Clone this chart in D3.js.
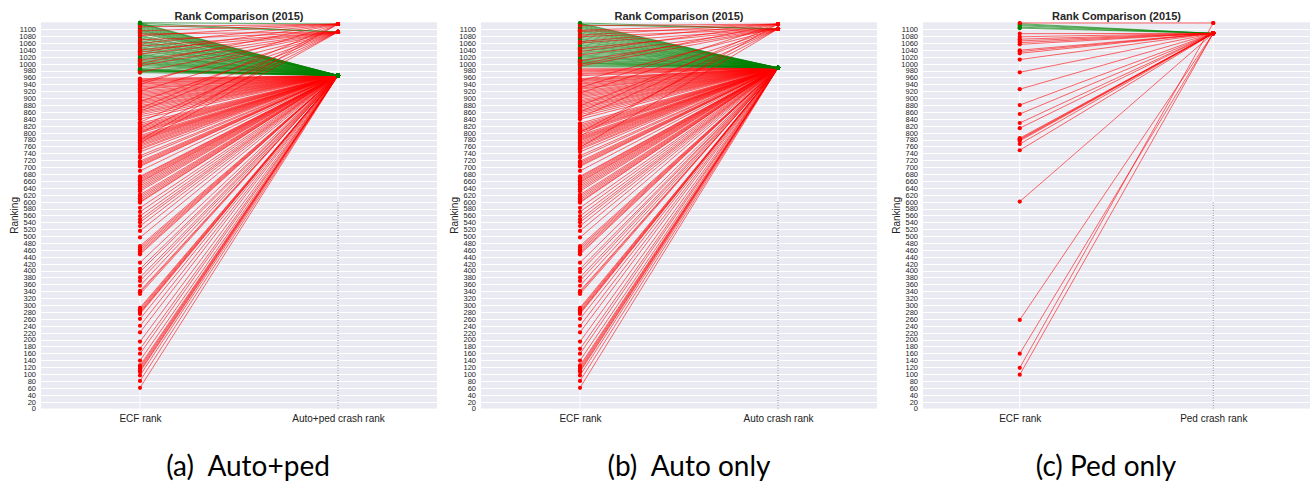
<!DOCTYPE html>
<html lang="en">
<head>
  <meta charset="UTF-8">
  <title>Rank Comparison (2015)</title>
  <style>
    body { margin: 0; background: #fff; }
    svg { display: block; }
    .tick text { font-family: "Liberation Sans", Arial, sans-serif; fill: #222; }
    .domain { display: none; }
    .link { fill: none; stroke-width: 0.9px; stroke-opacity: 0.65; }
  </style>
</head>
<body>
  <script src="https://d3js.org/d3.v7.min.js"></script>
  <script>
    // ECF ranks of the sites whose crash rank rises to the big tie (same sites in (a) and (b))
    const lowerEcf = [
      957, 954, 951, 948, 944, 941, 937, 933, 929, 926, 921, 917, 913, 909, 905, 901,
      896, 892, 888, 884, 879, 875, 871, 866, 861, 857, 852, 846, 839, 827, 822, 818,
      814, 810, 806, 803, 799, 792, 788, 785, 782, 779, 776, 772, 768, 764, 760, 755,
      751, 744, 733, 727, 717, 713, 709, 705, 702, 689, 673, 670, 666, 662, 658, 655,
      650, 645, 640, 635, 630, 620, 615, 610, 605, 600, 597, 582, 570, 558, 548, 540,
      529, 515, 496, 471, 466, 461, 456, 451, 447, 423, 405, 396, 380, 370, 356, 341,
      337, 332, 292, 288, 284, 280, 277, 274, 260, 240, 221, 194, 173, 159, 139, 125,
      120, 115, 110, 106, 96, 80, 60
    ];

    // (a) Auto+ped
    const autoPedTie = 966;
    const autoPedHighEcf = [
      974, 977, 979, 980, 981, 982, 984, 986, 991, 995, 998, 1001, 1003, 1006, 1009, 1012,
      1016, 1019, 1022, 1025, 1027, 1031, 1036, 1039, 1043, 1046, 1049, 1054, 1057, 1061,
      1064, 1067, 1072, 1075, 1079, 1082, 1088, 1091, 1094, 1097, 1099, 1102, 1105, 1108,
      1111, 1114, 1116, 1118
    ];
    const autoPedTo1092 = [1117, 1112, 1086, 1069, 1051, 1040, 1028, 1010, 994, 975, 947, 920, 890, 862, 830, 798, 770];
    const autoPedTo1115 = [1119, 1107, 1095, 1081, 1059, 1033, 1000, 940, 870, 812, 778];

    // (b) Auto only
    const autoTie = 988;
    const autoHighEcf = [
      965, 969, 972, 976, 979, 982, 985, 991, 994, 997, 1000, 1002, 1004, 1007, 1010, 1013,
      1017, 1020, 1023, 1026, 1030, 1034, 1038, 1041, 1045, 1048, 1052, 1055, 1059, 1063,
      1066, 1070, 1073, 1077, 1081, 1085, 1089, 1093, 1096, 1099, 1103, 1106, 1109, 1112,
      1115, 1117
    ];
    const autoTo1101 = [1118, 1113, 1094, 1078, 1060, 1044, 1025, 1008, 993, 950, 915, 878, 843, 801, 757];
    const autoTo1115 = [1110, 1097, 1083, 1064, 1035, 998, 930, 860, 790];

    // (c) Ped only
    const pedTie = 1088;
    const pedEcf = [
      1116, 1113, 1110, 1106, 1103, 1087, 1078, 1071, 1066, 1061, 1056, 1039, 1035, 1030,
      1012, 975, 926, 880, 854, 828, 813, 784, 781, 779, 776, 767, 749, 600, 257, 159, 98
    ];
    const pedTo1118 = [1118, 118];

    const yTicks = d3.range(0, 1101, 20);

    const W = 1310, H = 483;
    const plotTop = 22.3, plotBottom = 408.5;
    const y = d3.scaleLinear().domain([0, 1120]).range([plotBottom, plotTop]);

    const panels = [
      {
        left: 41, right: 437, xLabel: "Auto+ped crash rank", caption: "(a)  Auto+ped", capX: 248,
        groups: [
          { crash: autoPedTie, ecf: lowerEcf },
          { crash: autoPedTie, ecf: autoPedHighEcf },
          { crash: 1092, ecf: autoPedTo1092 },
          { crash: 1115, ecf: autoPedTo1115 }
        ]
      },
      {
        left: 481, right: 877, xLabel: "Auto crash rank", caption: "(b)  Auto only", capX: 689,
        groups: [
          { crash: autoTie, ecf: lowerEcf },
          { crash: autoTie, ecf: autoHighEcf },
          { crash: 1101, ecf: autoTo1101 },
          { crash: 1115, ecf: autoTo1115 }
        ]
      },
      {
        left: 923, right: 1310, xLabel: "Ped crash rank", caption: "(c) Ped only", capX: 1106,
        groups: [
          { crash: pedTie, ecf: pedEcf },
          { crash: 1118, ecf: pedTo1118 }
        ]
      }
    ];

    const svg = d3.select("body").append("svg").attr("width", W).attr("height", H);

    panels.forEach(p => {
      const x = d3.scaleLinear().domain([-0.5, 1.5]).range([p.left, p.right]);
      const g = svg.append("g");

      g.append("rect")
        .attr("x", p.left).attr("y", plotTop)
        .attr("width", p.right - p.left).attr("height", plotBottom - plotTop)
        .attr("fill", "#eaeaf2");

      // grid
      g.append("g").selectAll("line").data(yTicks).join("line")
        .attr("x1", p.left).attr("x2", p.right)
        .attr("y1", d => Math.round(y(d)) + 0.5).attr("y2", d => Math.round(y(d)) + 0.5)
        .attr("stroke", "#fff").attr("stroke-width", 1);
      g.append("g").selectAll("line").data([0, 1]).join("line")
        .attr("x1", d => x(d)).attr("x2", d => x(d))
        .attr("y1", plotTop).attr("y2", plotBottom)
        .attr("stroke", "#fff").attr("stroke-width", 1);

      g.append("line")
        .attr("x1", x(1)).attr("x2", x(1))
        .attr("y1", y(0)).attr("y2", y(600))
        .attr("stroke", "#666").attr("stroke-width", 0.8)
        .attr("stroke-dasharray", "1,1.5");

      // y axis
      const ya = g.append("g")
        .attr("transform", `translate(${p.left},0)`)
        .call(d3.axisLeft(y).tickValues(yTicks).tickFormat(d3.format("d")).tickSize(0).tickPadding(5));
      ya.selectAll("text").style("font-size", "7.5px");

      g.append("text")
        .attr("transform", `translate(${p.left - 27},${(plotTop + plotBottom) / 2}) rotate(-90)`)
        .attr("text-anchor", "middle").attr("dy", "0.35em")
        .style("font-family", "Liberation Sans, Arial, sans-serif")
        .style("font-size", "10px").attr("fill", "#222")
        .text("Ranking");

      // x labels
      const xa = g.append("g")
        .attr("transform", `translate(0,${plotBottom})`)
        .call(d3.axisBottom(x).tickValues([0, 1])
          .tickFormat(d => d === 0 ? "ECF rank" : p.xLabel)
          .tickSize(0).tickPadding(6));
      xa.selectAll("text").style("font-size", "10px").attr("fill", "#333");

      g.append("text")
        .attr("x", (p.left + p.right) / 2).attr("y", 20)
        .attr("text-anchor", "middle")
        .style("font-family", "Liberation Sans, Arial, sans-serif")
        .style("font-size", "11px").style("font-weight", "bold")
        .attr("fill", "#262626")
        .text("Rank Comparison (2015)");

      // slope lines
      const links = p.groups.flatMap(gr => gr.ecf.map(e => ({ ecf: e, crash: gr.crash })));
      const color = d => d.ecf > d.crash ? "#008000" : "#ff0000";
      const lg = g.append("g");
      links.forEach(d => {
        lg.append("line").attr("class", "link")
          .attr("x1", x(0)).attr("y1", y(d.ecf))
          .attr("x2", x(1)).attr("y2", y(d.crash))
          .attr("stroke", color(d));
        lg.append("circle").attr("cx", x(0)).attr("cy", y(d.ecf)).attr("r", 2.1).attr("fill", color(d));
        lg.append("circle").attr("cx", x(1)).attr("cy", y(d.crash)).attr("r", 2.1).attr("fill", color(d));
      });

      // caption
      svg.append("text")
        .attr("x", p.capX).attr("y", 476)
        .attr("text-anchor", "middle")
        .style("font-family", "Lato, 'Open Sans', sans-serif")
        .style("font-size", "28px").attr("fill", "#000")
        .style("white-space", "pre")
        .text(p.caption);
    });
  </script>
</body>
</html>
